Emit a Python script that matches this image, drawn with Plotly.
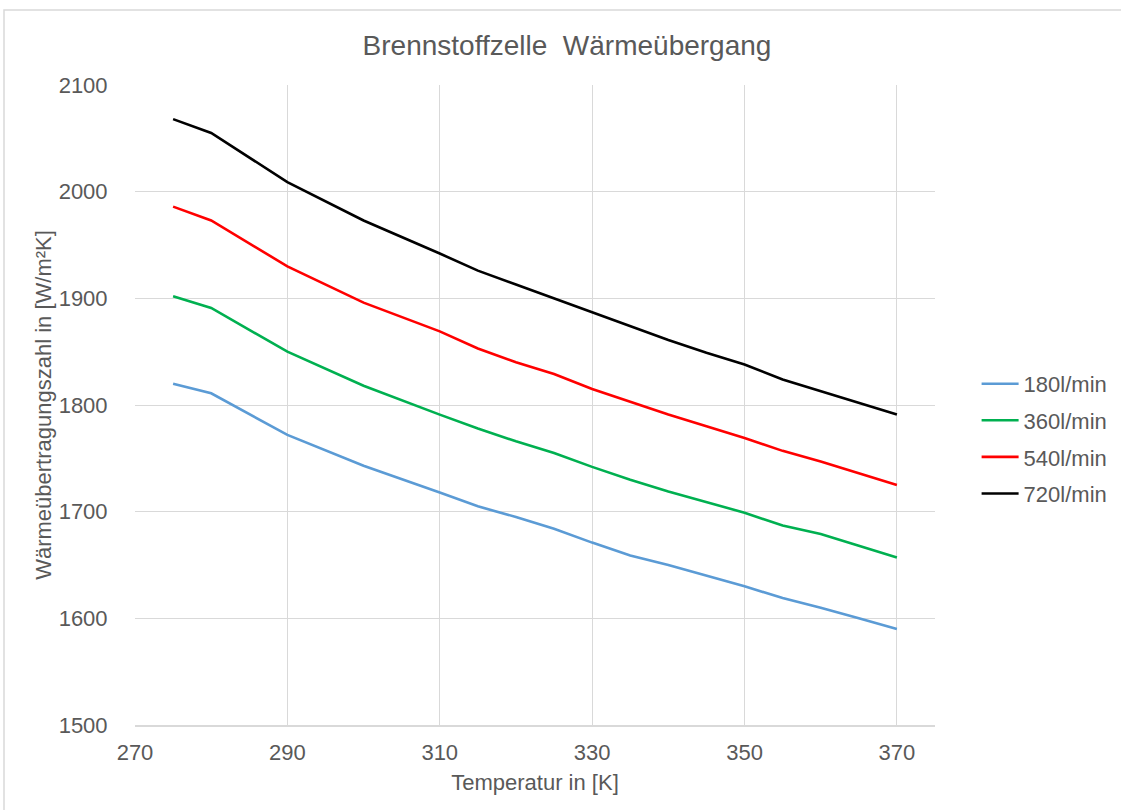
import plotly.graph_objects as go

temperature = [275, 280, 290, 300, 310, 315, 320, 325, 330, 335, 340, 345, 350, 355, 360, 365, 370]

series_names = ["180l/min", "360l/min", "540l/min", "720l/min"]
flow_180 = [1820, 1811, 1772, 1743, 1718, 1705, 1695, 1684, 1671, 1659, 1650, 1640, 1630, 1619, 1610, 1600, 1590]
flow_360 = [1902, 1891, 1850, 1818, 1791, 1778, 1766, 1755, 1742, 1730, 1719, 1709, 1699, 1687, 1679, 1668, 1657]
flow_540 = [1986, 1973, 1930, 1896, 1869, 1853, 1840, 1829, 1815, 1803, 1791, 1780, 1769, 1757, 1747, 1736, 1725]
flow_720 = [2068, 2055, 2009, 1973, 1942, 1926, 1913, 1900, 1887, 1874, 1861, 1849, 1838, 1824, 1813, 1802, 1791]

x_ticks = [270, 290, 310, 330, 350, 370]
y_ticks = [1500, 1600, 1700, 1800, 1900, 2000, 2100]

colors = ["#5B9BD5", "#00B050", "#FF0000", "#000000"]
FONT = "Liberation Sans, Arial, sans-serif"
TXT = "#595959"

fig = go.Figure()
for name, vals, col in zip(series_names, [flow_180, flow_360, flow_540, flow_720], colors):
    fig.add_trace(go.Scatter(x=temperature, y=vals, mode="lines", name=name, legendgroup=name,
                             line=dict(color=col, width=2.6)))

fig.update_layout(
    width=1121, height=810,
    margin=dict(l=135, r=186, t=85, b=85, autoexpand=False),
    paper_bgcolor="white", plot_bgcolor="white",
    font=dict(family=FONT, color=TXT),
    title=dict(text="Brennstoffzelle  Wärmeübergang", x=567 / 1121, xanchor="center",
               y=1 - 45 / 810, yanchor="middle", font=dict(size=28, color=TXT, family=FONT)),
    showlegend=True,
    legend=dict(x=1.052, xanchor="left", y=0.447, yanchor="middle",
                font=dict(size=22, color=TXT), bgcolor="rgba(0,0,0,0)",
                tracegroupgap=5, itemwidth=37),
    xaxis=dict(range=[270, 375], tickvals=x_ticks, showgrid=True, gridcolor="#D9D9D9", gridwidth=1,
               zeroline=False, showline=True, linecolor="#D9D9D9", linewidth=1.5,
               ticks="outside", ticklen=7, tickcolor="rgba(0,0,0,0)",
               tickfont=dict(size=22, color=TXT),
               title=dict(text="Temperatur in [K]", font=dict(size=22, color=TXT), standoff=10)),
    yaxis=dict(range=[1500, 2100], tickvals=y_ticks, showgrid=True, gridcolor="#D9D9D9", gridwidth=1,
               zeroline=False, showline=False,
               ticks="outside", ticklen=22, tickcolor="rgba(0,0,0,0)",
               tickfont=dict(size=22, color=TXT),
               title=dict(text="Wärmeübertragungszahl in [W/m²K]", font=dict(size=22, color=TXT), standoff=0)),
    shapes=[dict(type="rect", xref="paper", yref="paper",
                 x0=(4 - 135) / 800, x1=(1130 - 135) / 800,
                 y0=(725 - 820) / 640, y1=(725 - 10) / 640,
                 line=dict(color="#D9D9D9", width=1.5), fillcolor="rgba(0,0,0,0)", layer="below")],
)

fig.write_html("out.html")
